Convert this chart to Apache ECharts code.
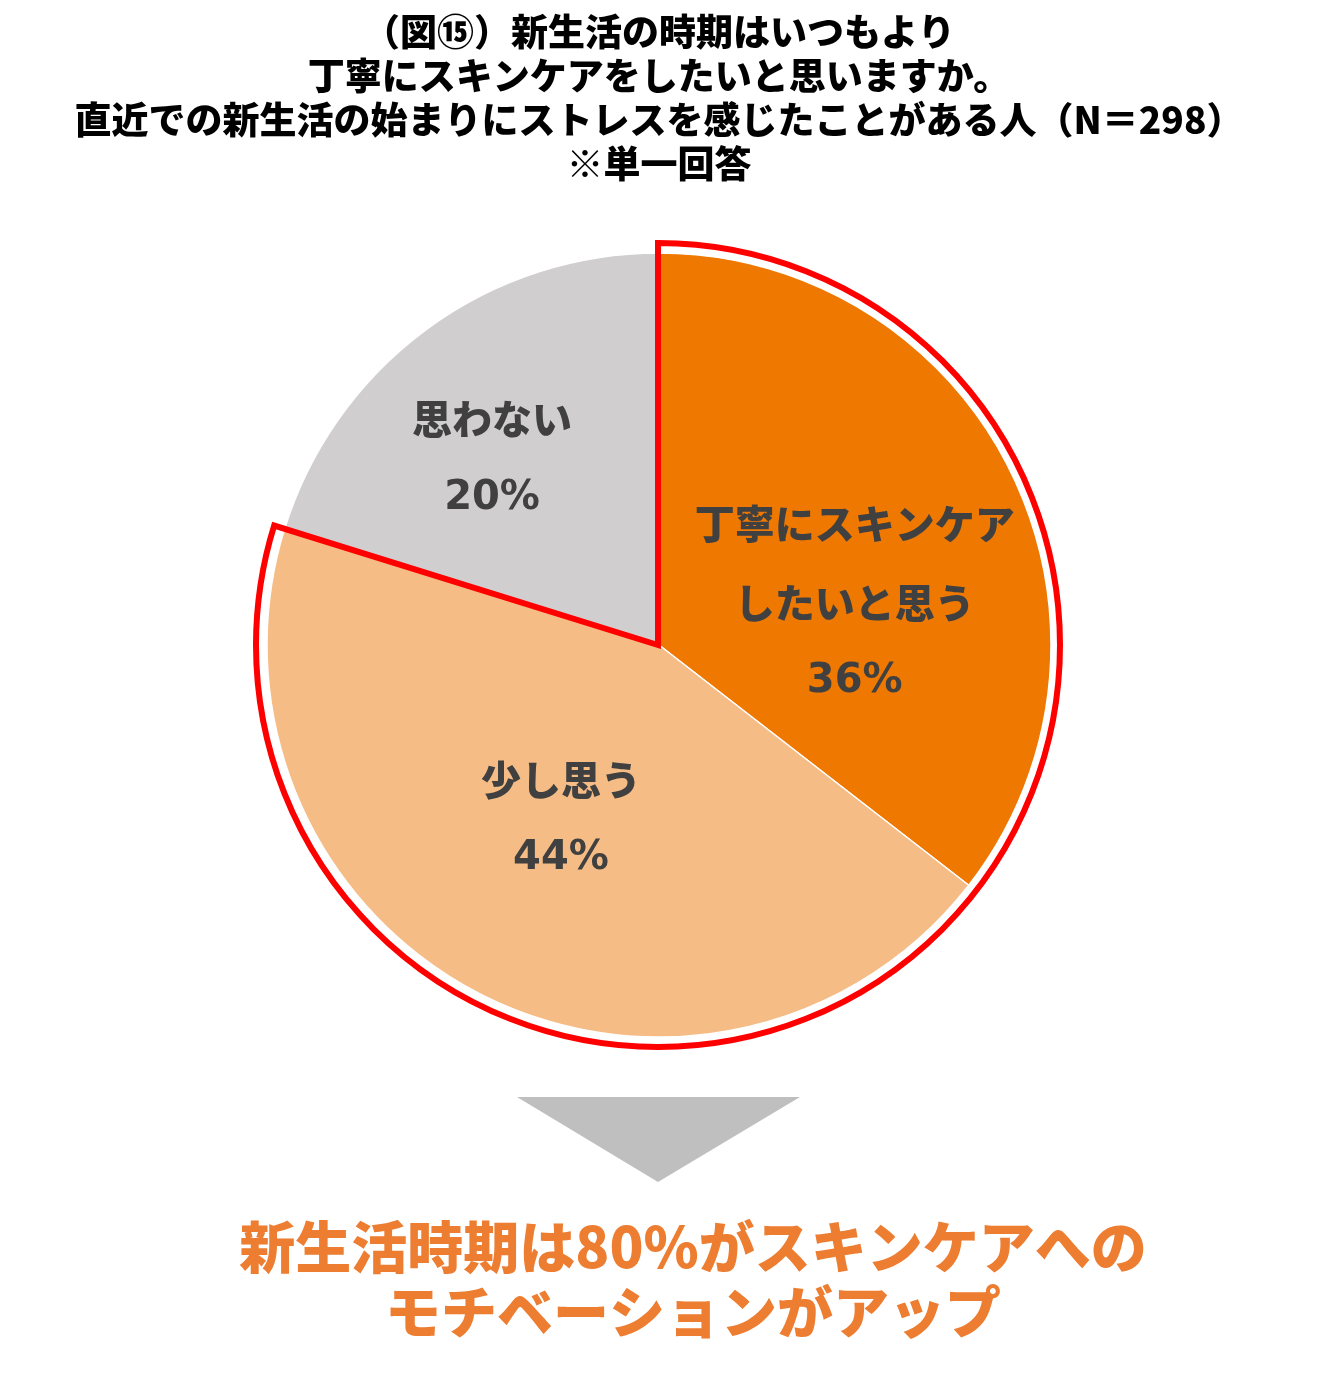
<!DOCTYPE html>
<html>
<head>
<meta charset="utf-8">
<script src="https://cdn.jsdelivr.net/npm/echarts@6/dist/echarts.min.js"></script>
<style>
html,body{margin:0;padding:0;background:#fff;}
#chart{width:1318px;height:1387px;}
</style>
</head>
<body>
<div id="chart"></div>
<script>
const titleLines = ['（図⑮）新生活の時期はいつもより', '丁寧にスキンケアをしたいと思いますか。', '直近での新生活の始まりにストレスを感じたことがある人（N＝298）', '※単一回答'];
const categories = ['丁寧にスキンケア\nしたいと思う', '少し思う', '思わない'];
const values = [35.5, 44.3, 20.2];
const percentLabels = ['36%', '44%', '20%'];
const sliceColors = ['#EE7800', '#F5BC86', '#D0CECF'];
const highlightValues = [79.8, 20.2];
const conclusionLines = ['新生活時期は80%がスキンケアへの', 'モチベーションがアップ'];

const labelOffsets = [[17, 45], [-6, -2], [-49, -26]];
const FONT = '"Noto Sans CJK JP", "Noto Sans", sans-serif';

const chart = echarts.init(document.getElementById('chart'));
chart.setOption({
  animation: false,
  backgroundColor: '#ffffff',
  title: [{
    text: titleLines.join('\n'),
    left: 'center',
    top: 5,
    textStyle: { fontFamily: FONT, fontSize: 37, fontWeight: 900, color: '#000', lineHeight: 44 }
  }],
  graphic: [{
    type: 'polygon',
    shape: { points: [[517, 1097], [800, 1097], [658, 1182]] },
    style: { fill: '#BFBFBF' }
  }, {
    type: 'text',
    x: 693,
    y: 1279,
    style: {
      text: conclusionLines.join('\n'),
      align: 'center',
      verticalAlign: 'middle',
      fontFamily: FONT,
      fontSize: 56,
      fontWeight: 900,
      fill: '#ED7D31',
      lineHeight: 65
    }
  }],
  series: [{
    type: 'pie',
    center: [659, 645],
    radius: [0, 392],
    startAngle: 90,
    clockwise: true,
    silent: true,
    emphasis: { disabled: true },
    itemStyle: { borderColor: '#ffffff', borderWidth: 1.5 },
    label: {
      show: true,
      position: 'inside',
      formatter: p => '{n|' + p.name.split('\n').join('}\n{n|') + '}\n{p|' + percentLabels[p.dataIndex] + '}',
      align: 'center',
      rich: {
        n: { fontFamily: FONT, fontSize: 40, fontWeight: 900, color: '#404040', lineHeight: 79 },
        p: { fontFamily: '"DejaVu Sans", Verdana, sans-serif', fontSize: 40, fontWeight: 'bold', color: '#404040', lineHeight: 79 }
      }
    },
    labelLine: { show: false },
    data: categories.map((c, i) => ({
      name: c,
      value: values[i],
      itemStyle: { color: sliceColors[i] },
      label: { offset: labelOffsets[i] }
    }))
  }, {
    type: 'pie',
    center: [658, 645],
    radius: [0, 402],
    startAngle: 90,
    clockwise: true,
    silent: true,
    z: 5,
    emphasis: { disabled: true },
    label: { show: false },
    labelLine: { show: false },
    data: [
      { name: 'hl', value: highlightValues[0], itemStyle: { color: 'rgba(0,0,0,0)', borderColor: '#FF0000', borderWidth: 6, borderJoin: 'miter' } },
      { name: 'rest', value: highlightValues[1], itemStyle: { color: 'rgba(0,0,0,0)', borderWidth: 0, borderColor: 'rgba(0,0,0,0)' } }
    ]
  }]
});
</script>
</body>
</html>
